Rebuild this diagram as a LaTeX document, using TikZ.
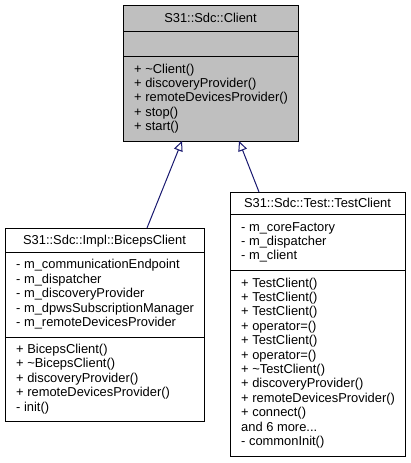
\documentclass[tikz,border=0pt]{standalone}
\usepackage{fontspec}
\setmainfont{Liberation Sans}
\usetikzlibrary{arrows.meta}
\definecolor{edgeblue}{RGB}{25,25,112}
\definecolor{basegray}{RGB}{191,191,191}
\newcommand{\umlfont}{\fontsize{12.9}{14.4}\selectfont}
\newcommand{\mythreedots}{...}
\begin{document}
\begin{tikzpicture}[x=1pt,y=-1pt,
  classbox/.style={draw=black, line width=1pt, anchor=north west, inner sep=0pt},
  member/.style={anchor=base west, inner sep=0pt, font=\umlfont},
  classtitle/.style={anchor=base, inner sep=0pt, font=\umlfont},
  sep/.style={draw=black, line width=1pt},
  inherit/.style={draw=edgeblue, line width=1pt, -{Triangle[open, fill=white, length=10pt, width=9pt]}}]
\useasboundingbox (0,0) rectangle (410,463);

% --- S31::Sdc::Client ---
\node[classbox, fill=basegray, minimum width=175pt, minimum height=136pt] (client) at (123,5) {};
\draw[sep] (123,31) -- (298,31);
\draw[sep] (123,56) -- (298,56);
\node[classtitle] (clientname) at (210.5,22.5) {S31::Sdc::Client};
\foreach \t [count=\i from 0] in {+ \textasciitilde Client(), + discoveryProvider(), + remoteDevicesProvider(), + stop(), + start()}
  \node[member] (clientm\i) at (134,{56+17+14.4*\i}) {\t};

% --- S31::Sdc::Impl::BicepsClient ---
\node[classbox, fill=white, minimum width=199pt, minimum height=193pt] (biceps) at (5,228) {};
\draw[sep] (5,252) -- (204,252);
\draw[sep] (5,337) -- (204,337);
\node[classtitle] (bicepsname) at (104.5,244.5) {S31::Sdc::Impl::BicepsClient};
\foreach \t [count=\i from 0] in {- m\_communicationEndpoint, - m\_dispatcher, - m\_discoveryProvider, - m\_dpwsSubscriptionManager, - m\_remoteDevicesProvider}
  \node[member] (bicepsa\i) at (16,{252+16.5+14.6*\i}) {\t};
\foreach \t [count=\i from 0] in {+ BicepsClient(), + \textasciitilde BicepsClient(), + discoveryProvider(), + remoteDevicesProvider(), - init()}
  \node[member] (bicepsm\i) at (16,{337+16.5+14.4*\i}) {\t};

% --- S31::Sdc::Test::TestClient ---
\node[classbox, fill=white, minimum width=175pt, minimum height=264pt] (test) at (230,192) {};
\draw[sep] (230,214) -- (405,214);
\draw[sep] (230,270) -- (405,270);
\node[classtitle] (testname) at (317.5,207.5) {S31::Sdc::Test::TestClient};
\foreach \t [count=\i from 0] in {- m\_coreFactory, - m\_dispatcher, - m\_client}
  \node[member] (testa\i) at (241,{214+17+14.4*\i}) {\t};
\foreach \t [count=\i from 0] in {+ TestClient(), + TestClient(), + TestClient(), + operator=(), + TestClient(), + operator=(), + \textasciitilde TestClient(), + discoveryProvider(), + remoteDevicesProvider(), + connect(), and 6 more\mythreedots, - commonInit()}
  \node[member] (testm\i) at (241,{270+17+14.4*\i}) {\t};

% --- inheritance ---
\coordinate (bicepsTop) at (147,228);
\coordinate (clientBotL) at (182,141);
\coordinate (testTop) at (259,192);
\coordinate (clientBotR) at (239,141);
\draw[inherit] (bicepsTop) -- (clientBotL);
\draw[inherit] (testTop) -- (clientBotR);
\end{tikzpicture}
\end{document}
